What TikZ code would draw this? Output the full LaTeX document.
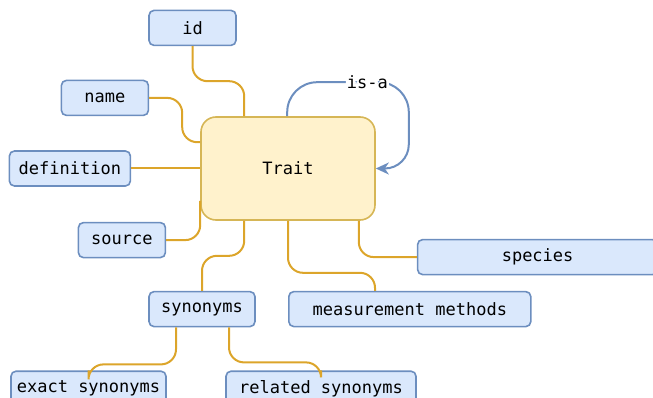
\documentclass[tikz,border=0pt]{standalone}
\usepackage{fontspec}
\setmonofont{DejaVu Sans Mono}
\usepackage{tikz}
\usetikzlibrary{arrows.meta,positioning}
\definecolor{fieldfill}{HTML}{DAE8FC}
\definecolor{fielddraw}{HTML}{6C8EBF}
\definecolor{traitfill}{HTML}{FFF2CC}
\definecolor{traitdraw}{HTML}{D6B656}
\definecolor{linkc}{HTML}{DCA52A}

\begin{document}
\begin{tikzpicture}[x=1pt,y=1pt,
    font=\ttfamily\fontsize{17}{20}\selectfont,
    field/.style={rectangle, draw=fielddraw, fill=fieldfill, line width=1.6pt, rounded corners=5pt, minimum height=35pt, inner sep=0pt},
    trait/.style={rectangle, draw=traitdraw, fill=traitfill, line width=1.6pt, rounded corners=15pt, minimum width=174pt, minimum height=103pt},
    link/.style={draw=linkc, line width=2pt, rounded corners=15pt},
    isa/.style={draw=fielddraw, line width=2pt, -{Stealth[length=13pt,width=12pt,inset=4pt]}}]
        \useasboundingbox (0,0) rectangle (653,-398);
        \clip (0,0) rectangle (653,-398);
        \node[trait] (Trait) at (288,-168.5) {Trait};
        \node[field, minimum width=87pt, above=70pt of Trait.north, xshift=-95.5pt] (id) {id};
        \node[field, minimum width=87pt, above left=0pt and 51pt of Trait.north west] (name) {name};
        \node[field, minimum width=121pt, left=69pt of Trait] (definition) {definition};
        \node[field, minimum width=87pt, below left=1pt and 34pt of Trait.south west] (source) {source};
        \node[field, minimum width=106pt, below=70pt of Trait.south, xshift=-86pt] (synonyms) {synonyms};
        \node[field, minimum width=242pt, below right=70pt and 0pt of Trait.south] (methods) {measurement methods};
        \node[field, minimum width=240pt, below right=18pt and 41pt of Trait.south east] (species) {species};
        \node[field, minimum width=155pt, below=43pt of synonyms, xshift=-113.5pt] (exact) {exact synonyms};
        \node[field, minimum width=190pt, below=43pt of synonyms, xshift=119pt] (related) {related synonyms};
        \coordinate[above right=34pt and 33pt of Trait.north east] (loop);

        \draw[link] (id.south) -- ++(0,-35) -| ([xshift=44pt]Trait.north west);
        \draw[link] (name.east) -- ++(33,0) |- ([yshift=-26pt]Trait.north west);
        \draw[link] (definition) -- (Trait);
        \draw[link] (source.east) -| ([yshift=20pt]Trait.south west);
        \draw[link] ([xshift=44pt]Trait.south west) -- ++(0,-35) -| (synonyms.north);
        \draw[link] (Trait.south) -- ++(0,-52) -| ([xshift=87pt]methods.north west);
        \draw[link] ([xshift=-17pt]Trait.south east) |- (species.west);
        \draw[link] ([xshift=-26pt]synonyms.south) -- ++(0,-37) -| (exact.north);
        \draw[link] ([xshift=27pt]synonyms.south) -- ++(0,-35) -| (related.north);
        \draw[isa] ([xshift=87pt]Trait.north west) [rounded corners=30pt] |- node[pos=.83, fill=white, inner sep=1pt] (isalabel) {is-a} (loop) [rounded corners=24pt] |- (Trait.east);
      \end{tikzpicture}
\end{document}
